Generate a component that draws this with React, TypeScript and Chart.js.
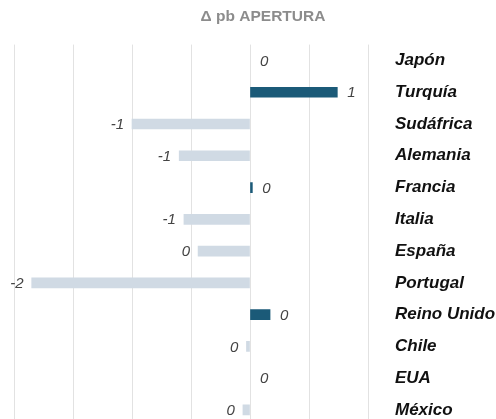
import React, { useEffect, useRef } from "react";
import { Chart, registerables } from "chart.js";

Chart.register(...registerables);

const categories = ["Japón", "Turquía", "Sudáfrica", "Alemania", "Francia", "Italia", "España", "Portugal", "Reino Unido", "Chile", "EUA", "México"];
const values = [0, 0.74, -1.0, -0.6, 0.02, -0.56, -0.44, -1.85, 0.17, -0.03, 0, -0.06];
const titleText = "Δ pb APERTURA";
const xMin = -2;
const xMax = 1;
const xStep = 0.5;

const POS = "#1b5a78";
const NEG = "#d0dae4";
const FONT = "'Liberation Sans', Arial, Helvetica, sans-serif";

const valueLabels = {
  id: "valueLabels",
  afterDatasetsDraw(chart: any) {
    const ctx = chart.ctx;
    const meta = chart.getDatasetMeta(0);
    const data = chart.data.datasets[0].data as number[];
    ctx.save();
    ctx.font = `italic 15px ${FONT}`;
    ctx.fillStyle = "#444444";
    ctx.textBaseline = "middle";
    meta.data.forEach((el: any, i: number) => {
      const v = data[i];
      const txt = String(Math.round(v) || 0);
      if (v < 0) {
        ctx.textAlign = "right";
        ctx.fillText(txt, el.x - 8, el.y + 1);
      } else {
        ctx.textAlign = "left";
        ctx.fillText(txt, el.x + 10, el.y + 1);
      }
    });
    ctx.restore();
  },
};

export default function App() {
  const ref = useRef<HTMLCanvasElement>(null);
  useEffect(() => {
    if (!ref.current) return;
    const chart = new Chart(ref.current, {
      type: "bar",
      data: {
        labels: categories,
        datasets: [
          {
            data: values,
            backgroundColor: values.map((v) => (v === 0 ? "rgba(0,0,0,0)" : v > 0 ? POS : NEG)),
            barThickness: 10,
            borderWidth: 0,
          },
        ],
      },
      options: {
        indexAxis: "y",
        animation: false,
        responsive: false,
        layout: { padding: { left: 14, right: 0, top: 0, bottom: 0 } },
        plugins: {
          legend: { display: false },
          tooltip: { enabled: false },
          title: {
            display: true,
            text: titleText,
            color: "#8c8c8c",
            font: { family: FONT, size: 15.5, weight: "bold" },
            padding: { top: 7, bottom: 19 },
          },
        },
        scales: {
          x: {
            min: xMin,
            max: xMax,
            ticks: { display: false, stepSize: xStep },
            grid: { color: "#e2e2e2", drawTicks: false, lineWidth: 1 },
            border: { display: false },
            afterFit: (scale: any) => {
              scale.height = 0;
            },
          },
          y: {
            position: "right",
            grid: {
              display: true,
              drawOnChartArea: false,
              drawTicks: true,
              tickLength: 27,
              color: "rgba(0,0,0,0)",
            },
            border: { display: false },
            ticks: {
              color: "#111111",
              padding: 0,
              font: { family: FONT, size: 17, weight: "bold", style: "italic" },
            },
            afterFit: (scale: any) => {
              scale.width = 144;
            },
          },
        },
      },
      plugins: [valueLabels],
    });
    return () => chart.destroy();
  }, []);
  return (
    <div style={{ position: "fixed", left: 0, top: 0, width: 496, height: 419, overflow: "hidden", background: "#fff" }}>
      <canvas ref={ref} width={512} height={436} style={{ display: "block" }} />
    </div>
  );
}
